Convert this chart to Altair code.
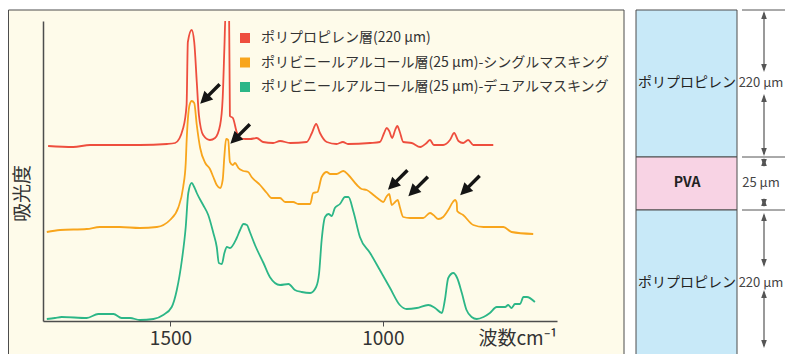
import altair as alt
import pandas as pd

FONT = "Noto Sans CJK JP"

# ---------------- data ----------------
series_names = [
    "ポリプロピレン層(220 µm)",
    "ポリビニールアルコール層(25 µm)-シングルマスキング",
    "ポリビニールアルコール層(25 µm)-デュアルマスキング",
]
series_colors = ["#EE4E3E", "#F8A51C", "#2CB687"]

wn_pp = [1788, 1729, 1689, 1572, 1508, 1489, 1470, 1462, 1459, 1450, 1444, 1438, 1433, 1423,
         1407, 1395, 1383, 1377, 1373, 1370, 1362, 1360, 1353, 1344, 1336, 1324, 1312, 1297,
         1282, 1258, 1242, 1218, 1179, 1167, 1157, 1148, 1132, 1109, 1094, 1082, 1030, 1007,
         997, 991, 985, 978, 971, 966, 960, 952, 932, 912, 897, 889, 880, 858, 842, 832, 822,
         811, 799, 787, 740]
ab_pp = [175, 174, 176, 176, 177, 178, 193, 216, 279, 291, 279, 239, 206, 186,
         181, 183, 196, 223, 273, 310, 310, 205, 203, 189, 183, 182, 182, 183,
         179, 178, 180, 178, 179, 188, 197, 188, 179, 177, 179, 177, 178, 179,
         188, 193, 190, 183, 191, 195, 189, 179, 178, 174, 178, 181, 176, 176, 181, 188, 180,
         178, 181, 176, 176]

wn_single = [1791, 1760, 1697, 1666, 1619, 1572, 1532, 1501, 1481, 1470, 1464, 1462, 1455, 1450,
             1444, 1438, 1430, 1418, 1407, 1399, 1391, 1383, 1377, 1373, 1369, 1364, 1360, 1353,
             1348, 1340, 1328, 1317, 1309, 1289, 1273, 1262, 1242, 1230, 1211, 1199, 1171, 1164,
             1154, 1144, 1132, 1124, 1109, 1093, 1081, 1061, 1050, 1038, 1022, 1007, 999, 992,
             985, 979, 971, 965, 960, 952, 936, 905, 889, 881, 869, 858, 846, 835, 830, 826,
             825, 811, 787, 763, 716, 697, 646]
ab_single = [89, 91, 92, 94, 94, 93, 94, 101, 114, 134, 158, 179, 216, 220,
             218, 196, 173, 158, 152, 144, 136, 133, 141, 165, 182, 181, 159, 156,
             158, 153, 150, 149, 144, 136, 128, 123, 123, 119, 119, 117, 117, 128,
             129, 144, 149, 147, 147, 150, 146, 136, 132, 131, 126, 121, 119, 124,
             127, 116, 119, 121, 114, 104, 103, 103, 108, 106, 102, 104, 111, 119, 121, 118,
             110, 106, 96, 94, 94, 89, 87]

wn_dual = [1791, 1772, 1756, 1697, 1670, 1634, 1615, 1595, 1572, 1540, 1517, 1497, 1485, 1473,
           1464, 1458, 1450, 1444, 1438, 1423, 1411, 1399, 1391, 1386, 1379, 1373, 1367, 1360,
           1344, 1336, 1328, 1320, 1313, 1301, 1281, 1266, 1242, 1222, 1207, 1191, 1171, 1157,
           1150, 1144, 1136, 1128, 1120, 1113, 1101, 1089, 1081, 1069, 1054, 1030, 1007, 983,
           960, 944, 920, 893, 877, 861, 854, 846, 834, 825, 814, 803, 791, 779, 763, 748,
           732, 712, 705, 697, 689, 677, 669, 661, 642]
ab_dual = [2, 3, 4, 3, 7, 7, 3, 3, 1, 2, 6, 14, 31, 61,
           94, 128, 138, 134, 128, 116, 106, 88, 74, 58, 57, 68, 74, 73,
           83, 91, 97, 96, 89, 76, 58, 44, 36, 37, 31, 29, 28, 34,
           48, 81, 104, 107, 105, 113, 117, 124, 124, 109, 84, 68, 51, 33,
           16, 12, 13, 16, 13, 8, 21, 43, 48, 43, 28, 11, 4, 2, 4, 8,
           14, 14, 16, 13, 17, 17, 24, 24, 19]

# annotation arrows (centre of each arrow, in data units)
arrow_wn = [1407, 1336, 965, 917, 795]
arrow_ab = [227, 187, 141, 134.5, 135.5]

# layer schematic
layer_labels = ["ポリプロピレン", "PVA", "ポリプロピレン"]
layer_fills = ["#C8E9F8", "#F8D3E4", "#C8E9F8"]
thickness_labels = ["220 µm", "25 µm", "220 µm"]

# ---------------- build tables ----------------
rows = []
for name, wns, abs_ in zip(series_names, [wn_pp, wn_single, wn_dual], [ab_pp, ab_single, ab_dual]):
    for w, a in zip(wns, abs_):
        rows.append({"series": name, "wn": w, "ab": a})
df = pd.DataFrame(rows)
arrow_df = pd.DataFrame({"wn": arrow_wn, "ab": arrow_ab})
one = pd.DataFrame({"_": [0]})

# ---------------- layout constants (pixels, relative to plot origin) ----------------
W, H = 514, 300
PAD = {"left": 35, "top": 13, "right": 228, "bottom": 33}
AX = "#4d4d4d"
TXT = "#333333"


def diag_arrow_path(half_len=1.414, shaft=0.18, head_len=1.25, head_w=0.64):
    pts = [(-half_len, -shaft), (half_len - head_len, -shaft), (half_len - head_len, -head_w),
           (half_len, 0), (half_len - head_len, head_w), (half_len - head_len, shaft),
           (-half_len, shaft)]
    k = 0.70710678
    coords = [((-a + p) * k, (a + p) * k) for a, p in pts]
    return "M" + "L".join(f"{x:.3f},{y:.3f}" for x, y in coords) + "Z"


ARROW = diag_arrow_path()
HEAD_UP = "M0,-1L0.7,1L-0.7,1Z"
HEAD_DOWN = "M0,1L0.7,-1L-0.7,-1Z"

x_enc = alt.X("wn:Q", scale=alt.Scale(domain=[590, 1800], reverse=True, nice=False, zero=False),
              axis=alt.Axis(values=[1500, 1000], format="d", title="波数cm⁻¹", grid=False,
                            tickSize=5, tickColor=AX, tickWidth=1, domainColor=AX, domainWidth=1.5,
                            labelFontSize=19, labelColor=TXT, labelFont=FONT, labelPadding=3,
                            titleFontSize=19, titleFont=FONT, titleColor=TXT,
                            titleFontWeight="normal", titleX=514, titleY=23,
                            titleAlign="right", titleBaseline="alphabetic", zindex=1))
y_enc = alt.Y("ab:Q", scale=alt.Scale(domain=[0, 300], nice=False),
              axis=alt.Axis(ticks=False, labels=False, grid=False, domainColor=AX, domainWidth=1.5,
                            title="吸光度", titleFontSize=19, titleFont=FONT, titleColor=TXT,
                            titleFontWeight="normal", titleX=-21, titleY=172,
                            titleAlign="center", titleBaseline="middle", zindex=1))


def deco_rect(x, x2, y, y2, fill, stroke="#4d4d4d", sw=1.0):
    return alt.Chart(one).mark_rect(fill=fill, stroke=stroke, strokeWidth=sw).encode(
        x=alt.value(x), x2=alt.value(x2), y=alt.value(y), y2=alt.value(y2))


def deco_rule(x, x2, y, y2, color="#555555", sw=1.0):
    return alt.Chart(one).mark_rule(color=color, strokeWidth=sw).encode(
        x=alt.value(x), x2=alt.value(x2), y=alt.value(y), y2=alt.value(y2))


def deco_text(txt, x, y, size, weight="normal", color="#222222"):
    return alt.Chart(one).mark_text(text=txt, fontSize=size, font=FONT, fontWeight=weight,
                                    color=color, align="center", baseline="middle").encode(
        x=alt.value(x), y=alt.value(y))


def deco_head(x, y, shape, size=64, color="#555555"):
    return alt.Chart(one).mark_point(shape=shape, size=size, filled=True, color=color,
                                     opacity=1, strokeWidth=0).encode(
        x=alt.value(x), y=alt.value(y))


layers = []
# cream panel behind the spectra
layers.append(deco_rect(-34.5, 581, -11, 345, "#FEFBEA"))
# layer schematic column
col_x, col_x2 = 593, 694
col_edges = [-11, 136, 189, 345]
for i in range(3):
    layers.append(deco_rect(col_x, col_x2, col_edges[i], col_edges[i + 1], layer_fills[i]))
label_y = [62, 162, 262]
for i in range(3):
    layers.append(deco_text(layer_labels[i], 644, label_y[i], 14,
                            weight="bold" if layer_labels[i] == "PVA" else "normal"))
    layers.append(deco_text(thickness_labels[i], 718, label_y[i], 13, color="#444444"))
# dimension lines
for yy in [-11, 136, 189]:
    layers.append(deco_rule(699, 742, yy, yy))
DIM_X = 721
dim_segments = [(-10, 51), (73, 135), (137, 146), (177, 186), (192, 246), (269, 327)]
for top, bot in dim_segments:
    layers.append(deco_rule(DIM_X, DIM_X, top + 2, bot - 2, sw=1.2))
    layers.append(deco_head(DIM_X, top + 4, HEAD_UP))
    layers.append(deco_head(DIM_X, bot - 4, HEAD_DOWN))

# spectra
lines = alt.Chart(df).mark_line(strokeWidth=1.8, interpolate="monotone", clip=True).encode(
    x=x_enc, y=y_enc,
    color=alt.Color("series:N",
                    scale=alt.Scale(domain=series_names, range=series_colors),
                    legend=alt.Legend(title=None, orient="none", legendX=195, legendY=10,
                                      symbolType="square", symbolSize=25, symbolStrokeWidth=5,
                                      symbolOpacity=1, labelFontSize=14, labelFont=FONT,
                                      labelColor=TXT, labelLimit=700, rowPadding=-1.5,
                                      labelOffset=9, padding=0)),
)
arrows = alt.Chart(arrow_df).mark_point(shape=ARROW, size=380, filled=True, color="#151515",
                                        opacity=1, strokeWidth=0).encode(x=x_enc, y=y_enc)
layers += [lines, arrows]

chart = alt.layer(*layers).properties(
    width=W, height=H, padding=PAD, autosize=alt.AutoSizeParams(type="none"),
    background="white",
).configure_view(stroke=None)

chart.save("out.html", embed_options={"renderer": "svg", "actions": False})
